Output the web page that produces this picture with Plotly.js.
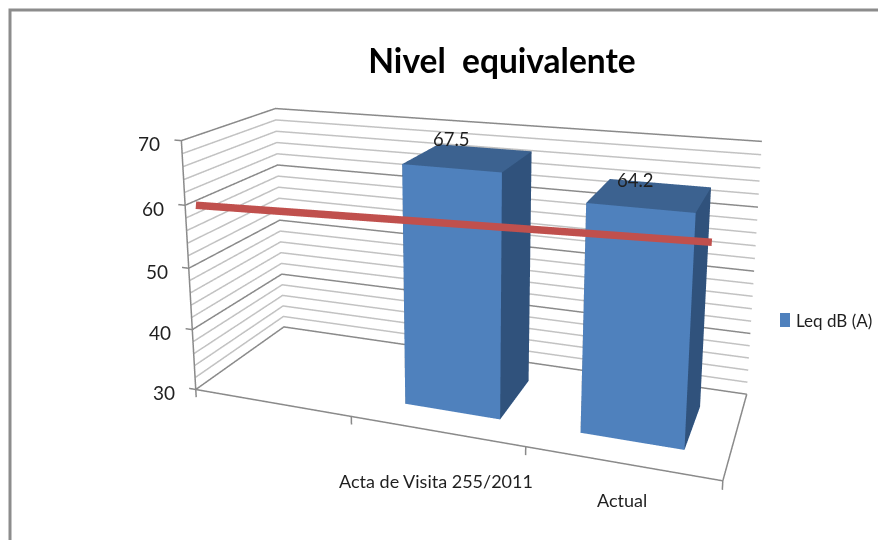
<!DOCTYPE html>
<html><head><meta charset="utf-8"><script src="https://cdn.plot.ly/plotly-3.0.0.min.js"></script>
<style>html,body{margin:0;padding:0;background:#fff;overflow:hidden;width:878px;height:540px}#c{position:absolute;left:-24px;top:-305px;width:926px;height:926px}</style></head>
<body><div id="c"></div><script>
// Data
const categories=['','Acta de Visita 255/2011','Actual'];
const categoryPositions=[1.4970,2.5010];
const leq=[67.5,64.2];
const barHalfWidths=[0.2810,0.2737];
const seriesName='Leq dB (A)';
const valueTicks=[30,40,50,60,70];
const gridValues=[30,32,34,36,38,40,42,44,46,48,50,52,54,56,58,60,62,64,66,68,70];
const redX=[0.071,2.890];
const redZ=[60.186,62.460];
// Style
const FONT='Lato, sans-serif';
const INK='#1f1f1f',AXIS='#8a8a8a',MINOR='#c2c2c2';
const W=926,H=926,LEFT=-24,TOP=-305;
const px=x=>(x-LEFT)/W, py=y=>1-(y-TOP)/H;
const DEPTH=[0.2399,0.7518],BASE=30;
const tr=[];
const line=(x,y,z,color,width)=>tr.push({type:'scatter3d',mode:'lines',x,y,z,line:{color,width},hoverinfo:'skip',showlegend:false});
gridValues.forEach(v=>{const major=valueTicks.includes(v);line([0,0,3],[0,1,1],[v,v,v],major?AXIS:MINOR,3)});
line([0,0],[0,0],[30,70],AXIS,3);
line([0,3,3],[0,0,1],[30,30,30],AXIS,3);
valueTicks.forEach(v=>line([0,-0.045],[0,0],[v,v],AXIS,3));
[0,1,2,3].forEach(c=>line([c,c],[0,0],[30,28.7],AXIS,3));
leq.forEach((v,n)=>{const a=categoryPositions[n]-barHalfWidths[n],b=categoryPositions[n]+barHalfWidths[n],[d0,d1]=DEPTH;
 tr.push({type:'mesh3d',x:[a,b,b,a,a,b,b,a],y:[d0,d0,d1,d1,d0,d0,d1,d1],z:[BASE,BASE,BASE,BASE,v,v,v,v],
  i:[0,0,4,4,0,0,1,1,2,2,3,3],j:[1,2,5,6,1,5,2,6,3,7,0,4],k:[2,3,6,7,5,4,6,5,7,6,4,7],
  facecolor:['#4f81bd','#4f81bd','#3c6290','#3c6290','#4f81bd','#4f81bd','#30527c','#30527c','#30527c','#30527c','#30527c','#30527c'],
  flatshading:true,lighting:{ambient:1,diffuse:0,specular:0,fresnel:0},hoverinfo:'skip',showscale:false});});
line(redX,[0,0],redZ,'#c0504d',15);
const sa=[];
valueTicks.forEach(v=>sa.push({x:0,y:0,z:v,text:String(v),showarrow:false,xanchor:'right',yanchor:'middle',xshift:-19,yshift:-3,font:{family:FONT,size:19,color:INK}}));
leq.forEach((v,n)=>sa.push({x:categoryPositions[n],y:(DEPTH[0]+DEPTH[1])/2,z:v,text:v.toFixed(1),showarrow:false,xanchor:'center',yanchor:'middle',xshift:n?-15:-17,yshift:n?15:19,font:{family:FONT,size:18.5,color:INK}}));
sa.push({x:1.5,y:0,z:30,text:categories[1],showarrow:false,xanchor:'center',yanchor:'middle',xshift:0,yshift:-50,font:{family:FONT,size:18,color:INK}});
sa.push({x:2.5,y:0,z:30,text:categories[2],showarrow:false,xanchor:'center',yanchor:'middle',xshift:1,yshift:-37,font:{family:FONT,size:18,color:INK}});
const hid={visible:false};
Plotly.newPlot('c',tr,{width:W,height:H,margin:{l:0,r:0,t:0,b:0},paper_bgcolor:'#fff',showlegend:false,
 title:{text:'<b>Nivel  equivalente</b>',x:px(502),y:py(61),xref:'container',yref:'container',xanchor:'center',yanchor:'middle',font:{family:FONT,size:33.5,color:'#000'}},
 scene:{domain:{x:[0,1],y:[0,1]},aspectmode:'manual',aspectratio:{x:2.0273*3.2/3,y:0.7111*1.1,z:1.1},
  camera:{eye:{x:1.3615,y:-3.8150,z:1.3572},center:{x:-0.1231,y:0.0071,z:0.4245},up:{x:0.2816,y:-0.7127,z:1}},
  xaxis:Object.assign({range:[-0.1,3.1]},hid),yaxis:Object.assign({range:[-0.05,1.05]},hid),zaxis:Object.assign({range:[28,72]},hid),
  annotations:sa},
 annotations:[{text:seriesName,xref:'paper',yref:'paper',x:px(794),y:py(320),xanchor:'left',yanchor:'middle',showarrow:false,font:{family:FONT,size:17,color:INK}}],
 shapes:[{type:'rect',xref:'paper',yref:'paper',x0:px(780),x1:px(790),y0:py(327),y1:py(313),fillcolor:'#4f81bd',line:{width:0}},
  {type:'rect',xref:'paper',yref:'paper',x0:px(10),x1:px(900),y0:py(560),y1:py(10),line:{color:'#8c8c8c',width:3}}]
},{displayModeBar:false});
</script></body></html>
